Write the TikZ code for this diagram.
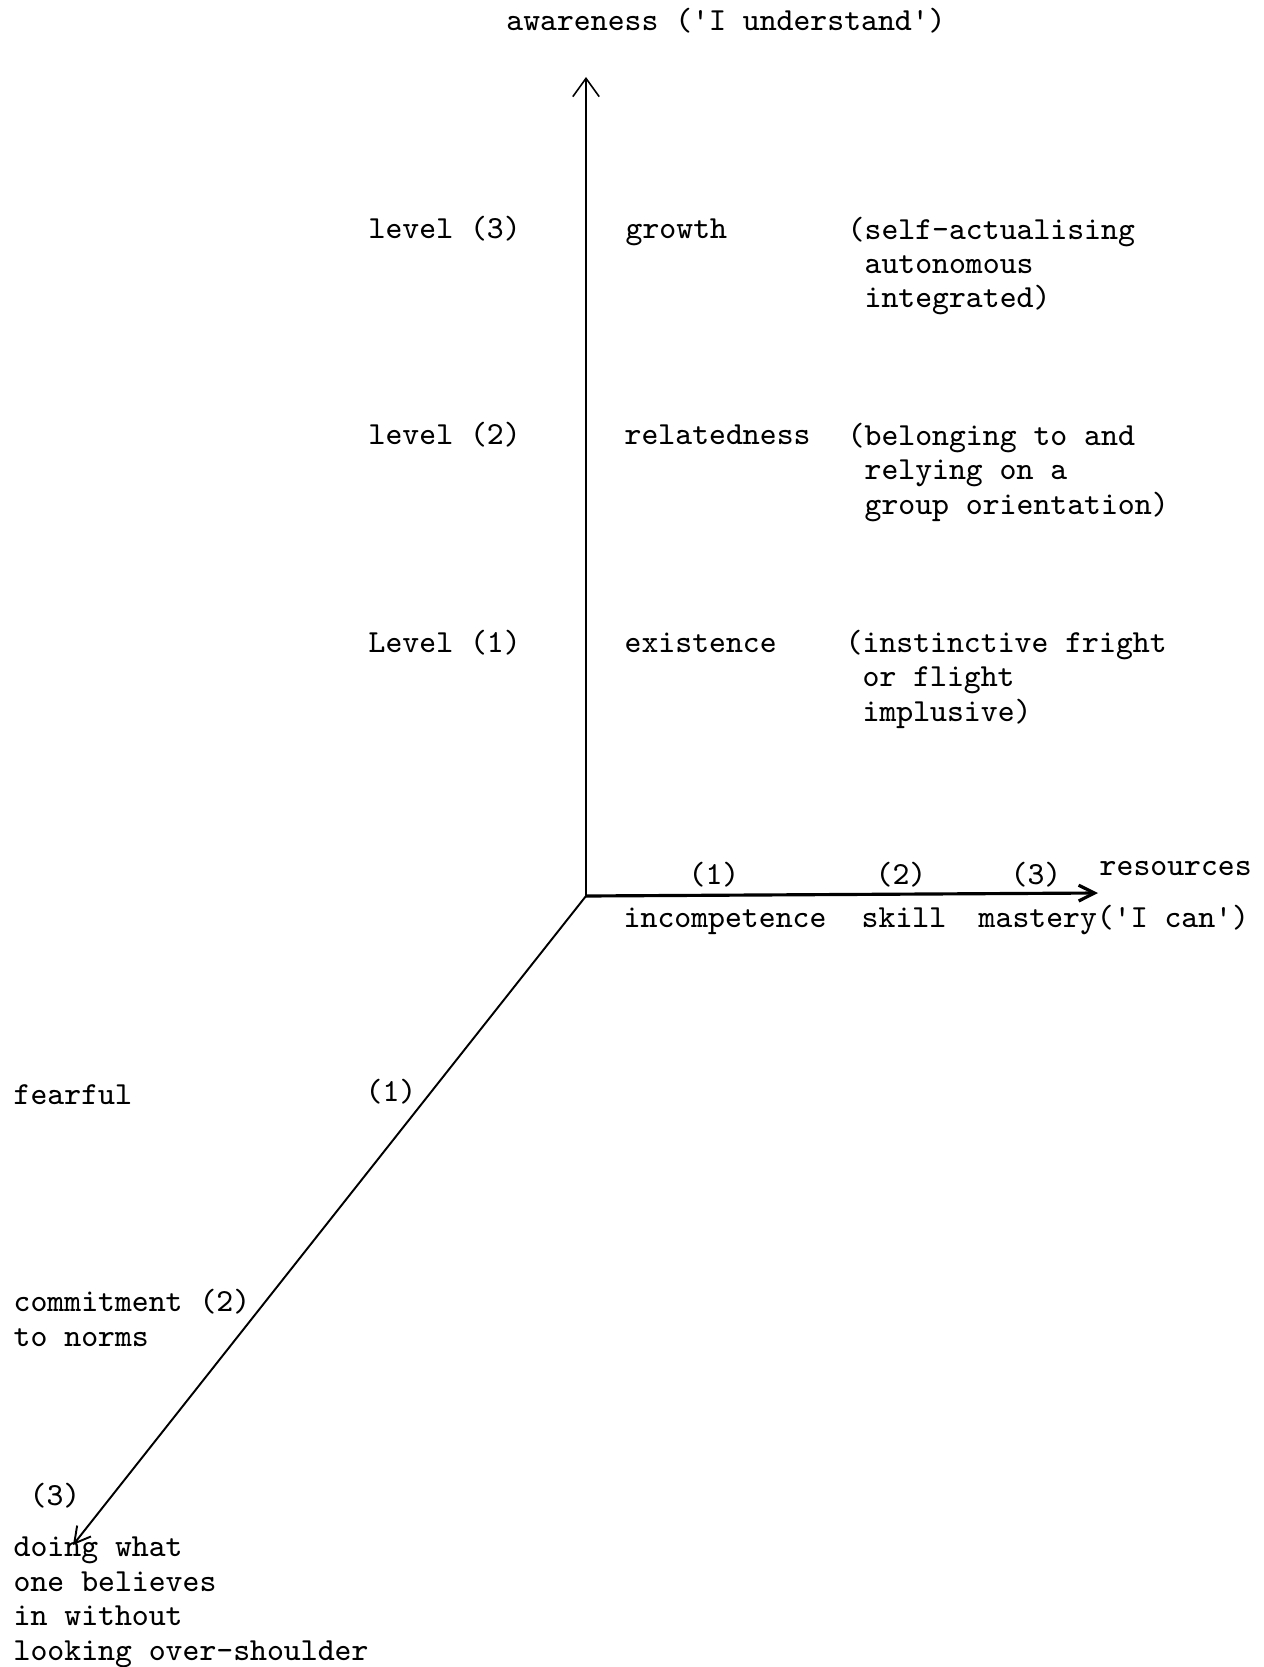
\documentclass[tikz,border=0pt]{standalone}
\usetikzlibrary{arrows.meta}
\newcommand{\sq}{\textquotesingle}
\begin{document}
\begin{tikzpicture}[x=0.01cm,y=-0.01cm,
  lbl/.style={font=\ttfamily\fontsize{9.15}{9.8}\selectfont, inner sep=0pt, align=left, anchor=base west},
  num/.style={font=\ttfamily\fontsize{9.15}{9.8}\selectfont, inner sep=0pt, anchor=base}]
\useasboundingbox (0,0) rectangle (1264,1667);

% axes
\coordinate (O) at (586,896);
\coordinate (up) at (586,77);
\coordinate (right) at (1098,893);
\coordinate (down) at (73,1545);
\draw[line width=0.45pt, -{Straight Barb[length=5.2pt,width=7.5pt]}] (O) -- (up);
\draw[line width=0.9pt, -{Straight Barb[length=4.5pt,width=4.5pt]}] (O) -- (right);
\draw[line width=0.55pt, -{Straight Barb[length=4.5pt,width=5pt]}] (O) -- (down);

% vertical axis (multi-line labels are placed by the baseline of their last line)
\node[num] (aw) at (726,31) {awareness (\sq I understand\sq)};
\node[lbl] (l3) at (368,239) {level (3)};
\node[lbl] (g) at (625,239) {growth};
\node[lbl] (g3) at (847,308) {(self-actualising\\\phantom{(}autonomous\\\phantom{(}integrated)};
\node[lbl] (l2) at (368,445) {level (2)};
\node[lbl] (r) at (624,445) {relatedness};
\node[lbl] (r2) at (847,514) {(belonging to and\\\phantom{(}relying on a\\\phantom{(}group orientation)};
\node[lbl] (l1) at (368,652) {Level (1)};
\node[lbl] (e) at (624,652) {existence};
\node[lbl] (e1) at (845,721) {(instinctive fright\\\phantom{(}or flight\\\phantom{(}implusive)};

% horizontal axis
\node[num] (h1) at (714,884) {(1)};
\node[num] (h2) at (901,884) {(2)};
\node[num] (h3) at (1036,884) {(3)};
\node[lbl] (res) at (1099,875) {resources};
\node[lbl] (inc) at (623,927) {incompetence};
\node[lbl] (sk) at (861,927) {skill};
\node[lbl] (ma) at (978,927) {mastery(\sq I can\sq)};

% diagonal axis
\node[lbl] (fe) at (13,1104) {fearful};
\node[num] (d1) at (391,1101) {(1)};
\node[lbl] (co) at (13,1346) {commitment (2)\\to norms};
\node[num] (d3) at (55,1505) {(3)};
\node[lbl] (dw) at (13,1660) {doing what\\one believes\\in without\\looking over-shoulder};
\end{tikzpicture}
\end{document}
